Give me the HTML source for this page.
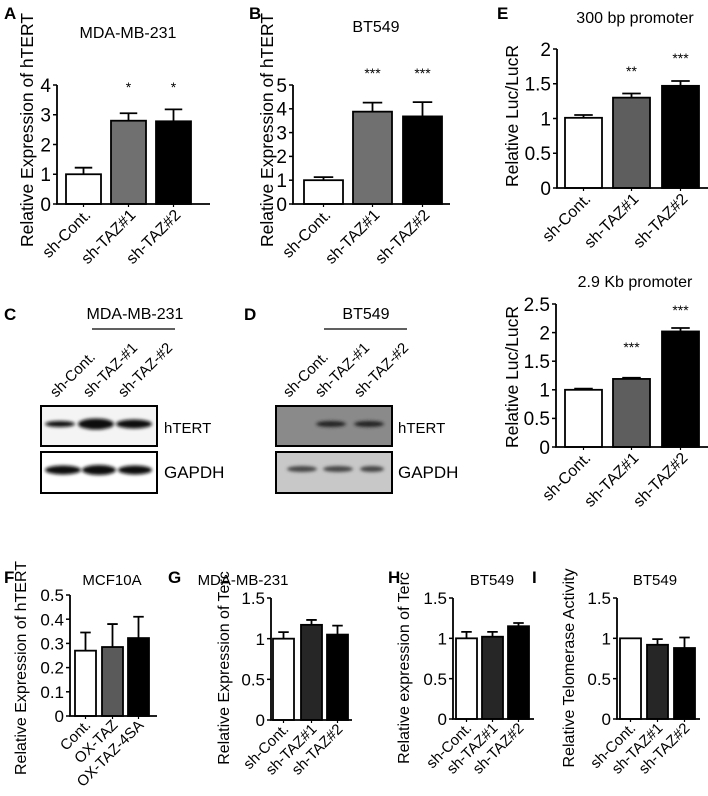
<!DOCTYPE html>
<html><head><meta charset="utf-8">
<style>
html,body{margin:0;padding:0;background:#fff;}
svg{display:block;font-family:"Liberation Sans",Arial,sans-serif;}
</style></head>
<body>
<svg id="fig" width="708" height="796" viewBox="0 0 708 796" xmlns="http://www.w3.org/2000/svg">
<defs>
<filter id="blur1" x="-20%" y="-100%" width="140%" height="300%"><feGaussianBlur stdDeviation="1.6"/></filter>
</defs>
<g font-weight="bold" font-size="17">
<text x="4" y="19">A</text>
<text x="249" y="19">B</text>
<text x="497" y="19">E</text>
<text x="4" y="320">C</text>
<text x="244" y="320">D</text>
<text x="4" y="583">F</text>
<text x="168" y="583">G</text>
<text x="388" y="583">H</text>
<text x="532" y="583">I</text>
</g>

<!-- Western blot C -->
<g>
<text x="135" y="319" text-anchor="middle" font-size="16">MDA-MB-231</text>
<line x1="92" y1="329" x2="175" y2="329" stroke="#000" stroke-width="1.3"/>
<g font-size="15">
<text transform="translate(56,398) rotate(-45)">sh-Cont.</text>
<text transform="translate(89,398) rotate(-45)">sh-TAZ-#1</text>
<text transform="translate(124,398) rotate(-45)">sh-TAZ-#2</text>
</g>
<rect x="41" y="406" width="116" height="40" fill="#f4f4f4" stroke="#000" stroke-width="2"/>
<g filter="url(#blur1)" fill="#111">
<ellipse cx="60" cy="424" rx="15" ry="3"/><ellipse cx="96" cy="424" rx="18" ry="5.5"/><ellipse cx="134" cy="424" rx="18" ry="4.5"/>
</g>
<rect x="41" y="452" width="116" height="41" fill="#fff" stroke="#000" stroke-width="2"/>
<g filter="url(#blur1)" fill="#111">
<ellipse cx="63" cy="470" rx="18" ry="4.5"/><ellipse cx="99" cy="470" rx="17" ry="5"/><ellipse cx="135" cy="470" rx="17" ry="4.5"/>
</g>
<text x="164" y="433" font-size="15">hTERT</text>
<text x="164" y="478" font-size="17">GAPDH</text>
</g>

<!-- Western blot D -->
<g>
<text x="366" y="319" text-anchor="middle" font-size="16">BT549</text>
<line x1="324" y1="329" x2="407" y2="329" stroke="#000" stroke-width="1.3"/>
<g font-size="15">
<text transform="translate(289,398) rotate(-45)">sh-Cont.</text>
<text transform="translate(321,398) rotate(-45)">sh-TAZ-#1</text>
<text transform="translate(360,398) rotate(-45)">sh-TAZ-#2</text>
</g>
<rect x="276" y="406" width="116" height="40" fill="#8a8a8a" stroke="#000" stroke-width="2"/>
<g filter="url(#blur1)" fill="#222">
<ellipse cx="331" cy="424" rx="15" ry="3"/><ellipse cx="369" cy="424" rx="15" ry="3"/>
</g>
<rect x="276" y="452" width="116" height="41" fill="#c8c8c8" stroke="#000" stroke-width="2"/>
<g filter="url(#blur1)" fill="#444">
<ellipse cx="302" cy="469" rx="15" ry="3"/><ellipse cx="338" cy="469" rx="15" ry="3"/><ellipse cx="372" cy="469" rx="12" ry="3"/>
</g>
<text x="398" y="433" font-size="15">hTERT</text>
<text x="398" y="478" font-size="17">GAPDH</text>
</g>

<g id="charts"></g>
</svg>
<script>
// Panel A
const aCategories = ["sh-Cont.", "sh-TAZ#1", "sh-TAZ#2"];
const aValues = [1.0, 2.8, 2.78];
const aErrors = [0.22, 0.25, 0.4];
const aStars = ["", "*", "*"];
const aTicks = ["0", "1", "2", "3", "4"];
// Panel B
const bCategories = ["sh-Cont.", "sh-TAZ#1", "sh-TAZ#2"];
const bValues = [1.0, 3.88, 3.68];
const bErrors = [0.13, 0.38, 0.6];
const bStars = ["", "***", "***"];
const bTicks = ["0", "1", "2", "3", "4", "5"];
// Panel E top (300 bp)
const e1Categories = ["sh-Cont.", "sh-TAZ#1", "sh-TAZ#2"];
const e1Values = [1.01, 1.3, 1.47];
const e1Errors = [0.04, 0.06, 0.07];
const e1Stars = ["", "**", "***"];
const e1Ticks = ["0", "0.5", "1", "1.5", "2"];
// Panel E bottom (2.9 Kb)
const e2Categories = ["sh-Cont.", "sh-TAZ#1", "sh-TAZ#2"];
const e2Values = [1.0, 1.19, 2.02];
const e2Errors = [0.02, 0.02, 0.06];
const e2Stars = ["", "***", "***"];
const e2Ticks = ["0", "0.5", "1", "1.5", "2", "2.5"];
// Panel F
const fCategories = ["Cont.", "OX-TAZ", "OX-TAZ-4SA"];
const fValues = [0.27, 0.285, 0.322];
const fErrors = [0.075, 0.095, 0.088];
const fTicks = ["0", "0.1", "0.2", "0.3", "0.4", "0.5"];
// Panel G
const gCategories = ["sh-Cont.", "sh-TAZ#1", "sh-TAZ#2"];
const gValues = [1.0, 1.17, 1.05];
const gErrors = [0.08, 0.06, 0.11];
const gTicks = ["0", "0.5", "1", "1.5"];
// Panel H
const hCategories = ["sh-Cont.", "sh-TAZ#1", "sh-TAZ#2"];
const hValues = [1.0, 1.02, 1.15];
const hErrors = [0.08, 0.06, 0.04];
const hTicks = ["0", "0.5", "1", "1.5"];
// Panel I
const iCategories = ["sh-Cont.", "sh-TAZ#1", "sh-TAZ#2"];
const iValues = [1.0, 0.92, 0.88];
const iErrors = [0.0, 0.07, 0.13];
const iTicks = ["0", "0.5", "1", "1.5"];

const NS = "http://www.w3.org/2000/svg";
const root = document.getElementById("charts");
function mk(tag, attrs, parent, txt) {
  const e = document.createElementNS(NS, tag);
  for (const k in attrs) e.setAttribute(k, attrs[k]);
  if (txt !== undefined) e.textContent = txt;
  (parent || root).appendChild(e);
  return e;
}

function chart(p, cats, vals, errs, ticks, stars) {
  const g = mk("g", {}, root);
  
  
  const tmax = parseFloat(ticks[ticks.length - 1]);
  const y = v => p.y0 - (v / tmax) * (p.y0 - p.yTop);
  const x = i => p.barX[i];
  if (p.title) {
    const t = mk("text", {x: p.titleX, y: p.titleY, "text-anchor": "middle", "font-size": p.titleSize || 16}, g, p.title);
    
    
  }
  const yt = mk("text", {transform: `translate(${p.ytX},${p.ytY}) rotate(-90)`, "text-anchor": "middle", "font-size": p.ytSize}, g, p.ytitle);
  
  
  vals.forEach((v, i) => {
    const b = mk("rect", {x: x(i), y: y(v), width: p.barW, height: p.y0 - y(v), fill: p.fills[i], stroke: "#000", "stroke-width": 1.8}, g);
    
    
    if (errs[i] > 0) {
      const cx = x(i) + p.barW / 2, ty = y(v + errs[i]);
      const e = mk("path", {d: `M${cx},${y(v)}V${ty}M${cx - p.barW / 4},${ty}H${cx + p.barW / 4}`, stroke: "#000", "stroke-width": 1.8, fill: "none"}, g);
      
      
    }
    if (stars && stars[i]) {
      const s = mk("text", {x: x(i) + p.barW / 2, y: p.starY[i], "text-anchor": "middle", "font-size": 14}, g, stars[i]);
      
      
    }
    const cx = x(i) + p.barW / 2;
    mk("line", {x1: cx, x2: cx, y1: p.y0, y2: p.y0 + 3, stroke: "#000", "stroke-width": 1.2}, g);
    const lab = mk("text", {transform: `translate(${cx + p.lblDx},${p.y0 + p.lblDy}) rotate(-45)`, "text-anchor": "end", "font-size": p.lblSize}, g, cats[i]);
    
    
  });
  const ax = mk("path", {d: `M${p.ax},${p.yTop}V${p.y0}H${p.axEnd}`, stroke: "#000", "stroke-width": 1.8, fill: "none"}, g);
  
  
  ticks.forEach(t => {
    const ty = y(parseFloat(t));
    mk("line", {x1: p.ax - 4, x2: p.ax, y1: ty, y2: ty, stroke: "#000", "stroke-width": 1.5}, g);
    const tl = mk("text", {x: p.ax - 6, y: ty + p.tickSize * 0.36, "text-anchor": "end", "font-size": p.tickSize}, g, t);
    
    
  });
}

const top3 = ["#fff", "#707070", "#000"];
const T = {ytSize: 17.5, tickSize: 19, lblSize: 16, lblDx: 8, lblDy: 12, titleSize: 16};
const Bm = {ytSize: 16, tickSize: 17, lblSize: 15, lblDx: 6, lblDy: 10, titleSize: 15};
chart(Object.assign({name: "chart-a", title: "MDA-MB-231", titleX: 128, titleY: 38, ytitle: "Relative Expression of hTERT", ytX: 33, ytY: 130,
  y0: 204, yTop: 85, ax: 57, axEnd: 210, barX: [66, 111, 156], barW: 35, fills: top3, starY: [0, 92, 92]}, T),
  aCategories, aValues, aErrors, aTicks, aStars);
chart(Object.assign({name: "chart-b", title: "BT549", titleX: 376, titleY: 32, ytitle: "Relative Expression of hTERT", ytX: 273, ytY: 130,
  y0: 204, yTop: 85, ax: 293, axEnd: 450, barX: [304, 353, 403], barW: 39, fills: top3, starY: [0, 78, 78]}, T),
  bCategories, bValues, bErrors, bTicks, bStars);
chart(Object.assign({name: "chart-e-300bp", title: "300 bp promoter", titleX: 635, titleY: 23, ytitle: "Relative Luc/LucR", ytX: 518, ytY: 116,
  y0: 188, yTop: 49, ax: 557, axEnd: 708, barX: [565, 613, 662], barW: 37, fills: ["#fff", "#5e5e5e", "#000"], starY: [0, 76, 63]}, T),
  e1Categories, e1Values, e1Errors, e1Ticks, e1Stars);
chart(Object.assign({name: "chart-e-2-9kb", title: "2.9 Kb promoter", titleX: 635, titleY: 287, ytitle: "Relative Luc/LucR", ytX: 518, ytY: 377,
  y0: 447, yTop: 304, ax: 556, axEnd: 708, barX: [565, 613, 662], barW: 37, fills: ["#fff", "#5e5e5e", "#000"], starY: [0, 352, 315]}, T),
  e2Categories, e2Values, e2Errors, e2Ticks, e2Stars);
chart(Object.assign({name: "chart-f", title: "MCF10A", titleX: 112, titleY: 585, ytitle: "Relative Expression of hTERT", ytX: 26, ytY: 668,
  y0: 716, yTop: 595, ax: 70, axEnd: 157, barX: [75, 102, 128], barW: 21, fills: ["#fff", "#5a5a5a", "#000"], starY: []}, Bm),
  fCategories, fValues, fErrors, fTicks, null);
chart(Object.assign({name: "chart-g", title: "MDA-MB-231", titleX: 243, titleY: 585, ytitle: "Relative Expression of Terc", ytX: 229, ytY: 668,
  y0: 720, yTop: 598, ax: 271, axEnd: 352, barX: [273, 301, 327], barW: 21, fills: ["#fff", "#262626", "#000"], starY: []}, Bm),
  gCategories, gValues, gErrors, gTicks, null);
chart(Object.assign({name: "chart-h", title: "BT549", titleX: 492, titleY: 585, ytitle: "Relative expression of Terc", ytX: 409, ytY: 668,
  y0: 719, yTop: 598, ax: 453, axEnd: 534, barX: [456, 482, 508], barW: 21, fills: ["#fff", "#262626", "#000"], starY: []}, Bm),
  hCategories, hValues, hErrors, hTicks, null);
chart(Object.assign({name: "chart-i", title: "BT549", titleX: 655, titleY: 585, ytitle: "Relative Telomerase Activity", ytX: 574, ytY: 668,
  y0: 719, yTop: 598, ax: 617, axEnd: 700, barX: [620, 647, 674], barW: 21, fills: ["#fff", "#262626", "#000"], starY: []}, Bm),
  iCategories, iValues, iErrors, iTicks, null);
</script>
</body></html>
